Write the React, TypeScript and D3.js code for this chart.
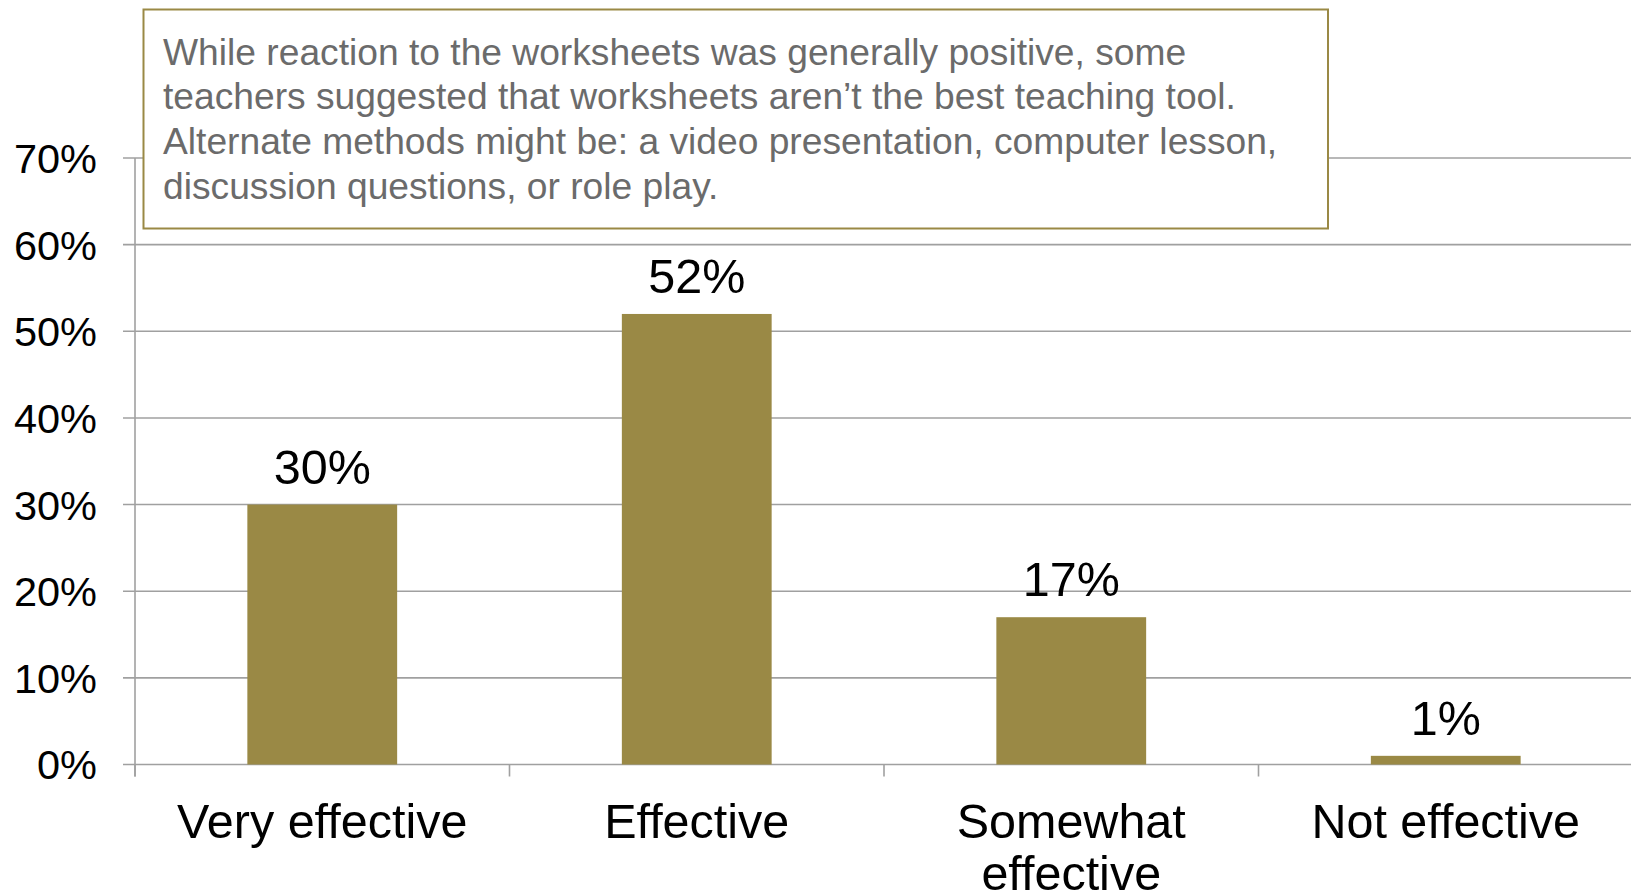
import React from "react";
import * as d3 from "d3";

const categories: string[][] = [["Very effective"], ["Effective"], ["Somewhat", "effective"], ["Not effective"]];
const values: number[] = [0.30, 0.52, 0.17, 0.01];
const valueLabels: string[] = ["30%", "52%", "17%", "1%"];
const yTicks: number[] = [0, 0.1, 0.2, 0.3, 0.4, 0.5, 0.6, 0.7];
const noteLines: string[] = [
  "While reaction to the worksheets was generally positive, some",
  "teachers suggested that worksheets aren\u2019t the best teaching tool.",
  "Alternate methods might be: a video presentation, computer lesson,",
  "discussion questions, or role play.",
];

const W = 1631;
const H = 896;
const FONT = "'Liberation Sans', Arial, Helvetica, sans-serif";
const BAR = "#9a8945";
const GRID = "#a0a0a0";

export default function App() {
  const x = d3.scaleBand<number>().domain(d3.range(categories.length)).range([135, 1633]).padding(0);
  const y = d3.scaleLinear().domain([0, 0.7]).range([764.5, 158]);
  const bw = x.bandwidth() * 0.4;
  const fmt = d3.format(".0%");

  return (
    <svg width={W} height={H} style={{ position: "absolute", left: 0, top: 0, background: "#fff" }} fontFamily={FONT}>
      {yTicks.map((t) => (
        <line key={"g" + t} x1={123} x2={1633} y1={y(t)} y2={y(t)} stroke={GRID} strokeWidth={1.6} />
      ))}
      <line x1={135} x2={135} y1={y(0.7)} y2={y(0) + 12} stroke={GRID} strokeWidth={1.6} />
      {yTicks.map((t) => (
        <text key={"t" + t} x={97} y={y(t)} dy="0.36em" textAnchor="end" fontSize={41.5} fill="#000">
          {fmt(t)}
        </text>
      ))}
      {d3.range(categories.length + 1).map((i) => {
        const xx = 135 + i * x.step();
        return <line key={"xt" + i} x1={xx} x2={xx} y1={y(0)} y2={y(0) + 12} stroke={GRID} strokeWidth={1.6} />;
      })}
      {values.map((v, i) => {
        const cx = (x(i) as number) + x.bandwidth() / 2;
        return (
          <g key={"b" + i}>
            <rect x={cx - bw / 2} width={bw} y={y(v)} height={y(0) - y(v)} fill={BAR} />
            <text x={cx} y={y(v) - 21} textAnchor="middle" fontSize={48.5} fill="#000">
              {valueLabels[i]}
            </text>
            {categories[i].map((line, j) => (
              <text key={j} x={cx} y={838 + j * 52} textAnchor="middle" fontSize={48.5} fill="#000">
                {line}
              </text>
            ))}
          </g>
        );
      })}
      <rect x={143.5} y={9.5} width={1184.5} height={219} fill="#fff" stroke="#9a8945" strokeWidth={2} />
      {noteLines.map((l, i) => (
        <text key={"n" + i} x={163} y={64.5 + i * 44.7} fontSize={37.2} fill="#6b6b6b">
          {l}
        </text>
      ))}
    </svg>
  );
}
